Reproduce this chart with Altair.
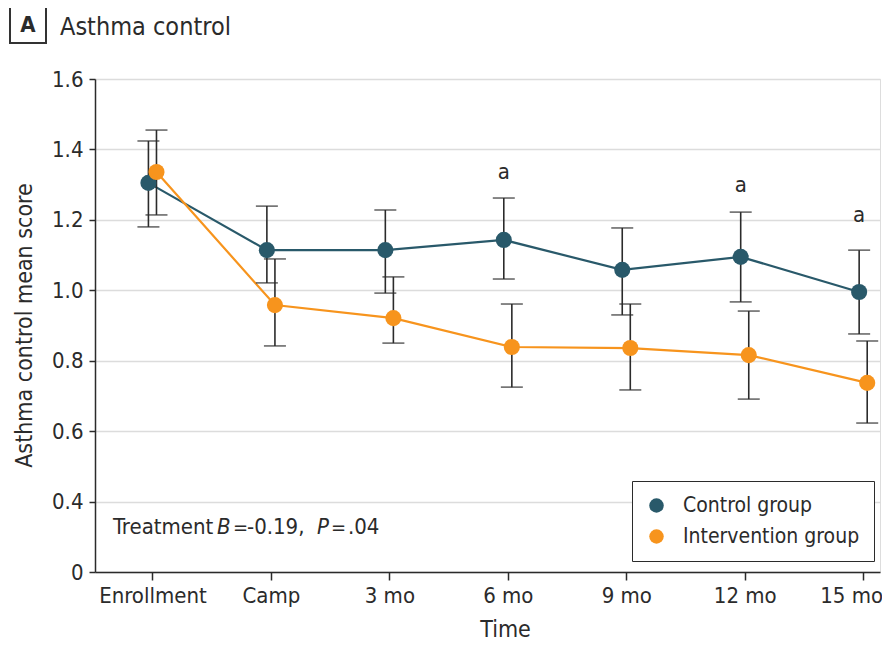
import json
import altair as alt
import pandas as pd

# ---------------- data ----------------
categories = ["Enrollment", "Camp", "3 mo", "6 mo", "9 mo", "12 mo", "15 mo"]
groups = ["Control group", "Intervention group"]

control_mean = [1.305, 1.114, 1.114, 1.143, 1.058, 1.095, 0.995]
control_lo = [1.180, 1.021, 0.992, 1.032, 0.930, 0.967, 0.876]
control_hi = [1.424, 1.239, 1.228, 1.262, 1.177, 1.222, 1.114]

interv_mean = [1.336, 0.958, 0.921, 0.839, 0.836, 0.816, 0.737]
interv_lo = [1.214, 0.842, 0.850, 0.725, 0.717, 0.691, 0.623]
interv_hi = [1.455, 1.089, 1.038, 0.961, 0.961, 0.941, 0.856]

sig_categories = ["6 mo", "12 mo", "15 mo"]
sig_label_y = [1.336, 1.299, 1.214]

y_ticks = [0.2, 0.4, 0.6, 0.8, 1.0, 1.2, 1.4, 1.6]  # 0.2 position is labelled "0" (axis break)

colors = ["#29596a", "#f7941d"]
FONT = "DejaVu Sans Condensed, Lato, sans-serif"
INK = "#2b2b2b"

# ---------------- tables ----------------
rows = []
for i, c in enumerate(categories):
    rows.append(dict(cat=c, idx=i, group=groups[0], mean=control_mean[i], lo=control_lo[i], hi=control_hi[i]))
    rows.append(dict(cat=c, idx=i, group=groups[1], mean=interv_mean[i], lo=interv_lo[i], hi=interv_hi[i]))
df = pd.DataFrame(rows)

sig_df = pd.DataFrame({"cat": sig_categories, "y": sig_label_y,
                       "idx": [categories.index(c) for c in sig_categories]})

label_expr = json.dumps(categories) + "[datum.value]"
last_idx = len(categories) - 1

xscale = alt.Scale(domain=[-0.485, 6.142], nice=False, zero=False)
yscale = alt.Scale(domain=[0.2, 1.6], nice=False, zero=False)
cscale = alt.Scale(domain=groups, range=colors)

x_axis = alt.Axis(values=list(range(len(categories))), labelExpr=label_expr, title="Time",
                  grid=False, domainColor=INK, domainWidth=1.5, tickColor=INK, tickWidth=1.5,
                  tickSize=8, labelPadding=5, labelFontSize=22, labelFont=FONT, labelColor=INK,
                  labelBound=False, labelFlush=False, labelOverlap=False,
                  labelOffset={"condition": {"test": f"datum.value == {last_idx}", "value": -12}, "value": 0},
                  titleFont=FONT, titleFontSize=23, titleFontWeight="normal", titleColor=INK,
                  titleX=410, titleY=64, titleBaseline="alphabetic", titleAlign="center")
y_axis = alt.Axis(values=y_ticks, labelExpr="datum.value < 0.3 ? '0' : format(datum.value, '.1f')",
                  title="Asthma control mean score", grid=True, gridColor="#dcdcdc", gridWidth=1.5,
                  domainColor=INK, domainWidth=1.5, tickColor=INK, tickWidth=1.5, tickSize=6,
                  labelPadding=6, labelFontSize=22, labelFont=FONT, labelColor=INK,
                  titleFont=FONT, titleFontSize=23, titleFontWeight="normal", titleColor=INK,
                  titleX=-71, titleY=246, titleAngle=-90, titleBaseline="middle", titleAlign="center")

legend = alt.Legend(title=None, orient="none", legendX=537, legendY=402, symbolType="circle",
                    symbolSize=210, symbolStrokeWidth=0, symbolOpacity=1,
                    labelFontSize=21, labelFont=FONT, labelColor=INK, labelOffset=16, labelLimit=400,
                    padding=14, rowPadding=9, strokeColor=INK, fillColor="white")

base = alt.Chart(df).transform_calculate(
    xpos="datum.idx + (datum.group == 'Control group' ? -0.034 : 0.034)"
)

lines = base.mark_line(strokeWidth=2.2).encode(
    x=alt.X("xpos:Q", scale=xscale, axis=x_axis),
    y=alt.Y("mean:Q", scale=yscale, axis=y_axis),
    color=alt.Color("group:N", scale=cscale, legend=legend),
    order="idx:Q",
)

bars = base.mark_rule(color=INK, strokeWidth=1.6).encode(
    x=alt.X("xpos:Q", scale=xscale), y=alt.Y("lo:Q", scale=yscale), y2="hi:Q"
)
caps_lo = base.mark_tick(color=INK, orient="horizontal", size=22, thickness=1.6).encode(
    x=alt.X("xpos:Q", scale=xscale), y=alt.Y("lo:Q", scale=yscale)
)
caps_hi = base.mark_tick(color=INK, orient="horizontal", size=22, thickness=1.6).encode(
    x=alt.X("xpos:Q", scale=xscale), y=alt.Y("hi:Q", scale=yscale)
)

points = base.mark_circle(size=260, opacity=1).encode(
    x=alt.X("xpos:Q", scale=xscale),
    y=alt.Y("mean:Q", scale=yscale),
    color=alt.Color("group:N", scale=cscale, legend=legend),
)

sig = alt.Chart(sig_df).transform_calculate(xpos="datum.idx - 0.034").mark_text(
    font=FONT, fontSize=22, color=INK, baseline="middle"
).encode(x=alt.X("xpos:Q", scale=xscale), y=alt.Y("y:Q", scale=yscale), text=alt.value("a"))


def label(text, x, y, size=21, style="normal", weight="normal", align="left", baseline="alphabetic"):
    return alt.Chart(alt.Data(values=[{"k": 0}])).mark_text(
        font=FONT, fontSize=size, fontStyle=style, fontWeight=weight, color=INK,
        align=align, baseline=baseline
    ).encode(x=alt.value(x), y=alt.value(y), text=alt.value(text))


# annotation "Treatment B=-0.19, P=.04" (plot-relative pixels)
ann_y = 455
annotation = [
    label("Treatment", 18, ann_y, 22),
    label("B", 122, ann_y, 22, style="italic"),
    label("=", 138, ann_y, 20),
    label("-0.19,", 152, ann_y, 22),
    label("P", 222, ann_y, 22, style="italic"),
    label("=", 236, ann_y, 20),
    label(".04", 253, ann_y, 22),
]

title_box = alt.Chart(alt.Data(values=[{"k": 0}])).mark_rect(
    fill="white", stroke="#333333", strokeWidth=2
).encode(x=alt.value(-85), x2=alt.value(-49), y=alt.value(-73), y2=alt.value(-36))
title_letter = label("A", -67, -54, 22, weight="bold", align="center", baseline="middle")
title_text = label("Asthma control", -35, -44, 25)

chart = alt.layer(
    lines, bars, caps_lo, caps_hi, points, sig, *annotation, title_box, title_letter, title_text
).properties(
    width=785, height=493,
    autosize=alt.AutoSizeParams(type="none"),
    padding={"left": 87, "top": 71, "right": 2, "bottom": 68},
).configure_view(strokeWidth=0).configure(background="white")

chart.save("out.html", embed_options={"renderer": "svg", "actions": False})
